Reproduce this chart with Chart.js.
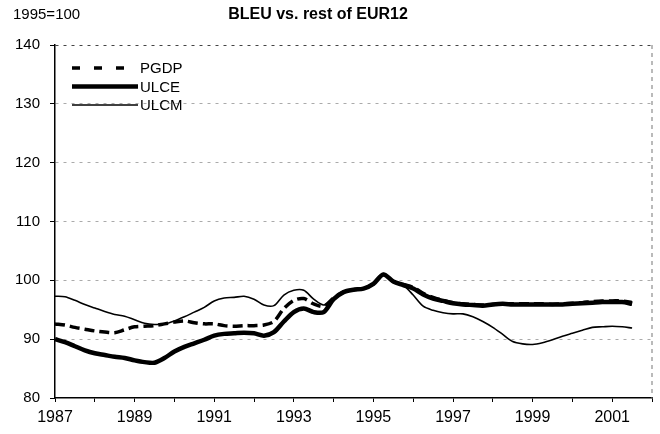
<!DOCTYPE html>
<html>
<head>
<meta charset="utf-8">
<script src="https://cdn.jsdelivr.net/npm/chart.js@4/dist/chart.umd.min.js"></script>
<style>
  body { margin: 0; background: #fff; }
  canvas { display: block; }
</style>
</head>
<body>
<canvas id="chart" width="660" height="434"></canvas>
<script>
// quarterly series, 1987Q1 .. 2001Q3, 1995 = 100
const startYear = 1987;
const titleText = "BLEU vs. rest of EUR12";
const unitText = "1995=100";
const seriesNames = ["PGDP", "ULCE", "ULCM"];

const pgdp = [
  92.6, 92.4, 92.0, 91.7, 91.4, 91.2, 91.1, 91.6, 92.1, 92.2,
  92.3, 92.6, 92.9, 93.1, 92.8, 92.6, 92.6, 92.3, 92.2, 92.3,
  92.3, 92.4, 93.0, 95.2, 96.6, 96.9, 96.0, 95.6, 97.0, 98.0,
  98.4, 98.6, 99.4, 101.0, 99.8, 99.3, 98.8, 97.8, 97.1, 96.6,
  96.2, 96.0, 95.9, 95.8, 95.9, 96.0, 96.0, 96.0, 96.0, 96.0,
  95.9, 96.0, 96.1, 96.2, 96.4, 96.5, 96.5, 96.5, 96.2
];
const ulce = [
  90.0, 89.5, 88.8, 88.1, 87.6, 87.3, 87.0, 86.8, 86.4, 86.1,
  86.0, 86.8, 87.9, 88.7, 89.3, 89.9, 90.6, 90.9, 91.0, 91.1,
  91.0, 90.6, 91.2, 93.0, 94.6, 95.2, 94.6, 94.6, 96.8, 98.0,
  98.4, 98.6, 99.4, 101.0, 99.8, 99.2, 98.6, 97.6, 96.9, 96.5,
  96.1, 95.9, 95.8, 95.7, 95.9, 96.0, 95.9, 95.9, 95.9, 95.9,
  95.9, 95.9, 96.0, 96.1, 96.2, 96.3, 96.3, 96.3, 96.0
];
const ulcm = [
  97.3, 97.2, 96.6, 95.9, 95.3, 94.7, 94.2, 93.9, 93.3, 92.7,
  92.5, 92.6, 93.1, 93.8, 94.6, 95.4, 96.5, 97.0, 97.1, 97.3,
  96.8, 95.8, 95.7, 97.5, 98.3, 98.3, 96.8, 95.8, 96.8, 97.9,
  98.5, 98.6, 99.3, 101.0, 99.9, 99.2, 97.5, 95.6, 94.9, 94.5,
  94.3, 94.3, 93.8, 93.0, 92.0, 90.8, 89.6, 89.2, 89.1, 89.4,
  89.9, 90.5, 91.0, 91.5, 92.0, 92.1, 92.2, 92.1, 91.9
];

const quarters = pgdp.map((_, i) => startYear + i / 4);
const toPoints = (vals) => vals.map((v, i) => ({ x: quarters[i], y: v }));

const fontFamily = "'Liberation Sans', Arial, sans-serif";

// titles, legend inside the plot and the dashed right border
const decorations = {
  id: "decorations",
  afterDraw(chart) {
    const ctx = chart.ctx;
    const area = chart.chartArea;
    ctx.save();
    ctx.fillStyle = "#000";
    ctx.textBaseline = "middle";
    ctx.font = "15px " + fontFamily;
    ctx.textAlign = "left";
    ctx.fillText(unitText, 13, 15);
    ctx.font = "bold 16px " + fontFamily;
    ctx.textAlign = "center";
    ctx.fillText(titleText, 318, 15);

    // right border
    ctx.strokeStyle = "#777";
    ctx.lineWidth = 1;
    ctx.setLineDash([4, 4]);
    ctx.beginPath();
    ctx.moveTo(area.right, area.top);
    ctx.lineTo(area.right, area.bottom);
    ctx.stroke();

    // legend
    ctx.font = "15px " + fontFamily;
    ctx.textAlign = "left";
    chart.data.datasets.forEach((ds, i) => {
      const y = area.top + 23 + i * 18.5;
      ctx.strokeStyle = "#000";
      ctx.lineWidth = ds.borderWidth;
      ctx.setLineDash(ds.borderDash ? [8, 14] : []);
      ctx.beginPath();
      ctx.moveTo(area.left + 17, y);
      ctx.lineTo(area.left + 83, y);
      ctx.stroke();
      ctx.fillText(ds.label, area.left + 85, y + 1);
    });
    ctx.restore();
  }
};

new Chart(document.getElementById("chart"), {
  type: "line",
  data: {
    datasets: [
      {
        label: seriesNames[0],
        data: toPoints(pgdp),
        borderColor: "#000",
        borderWidth: 3.5,
        borderDash: [10, 5],
        pointRadius: 0,
        tension: 0.3
      },
      {
        label: seriesNames[1],
        data: toPoints(ulce),
        borderColor: "#000",
        borderWidth: 4.5,
        pointRadius: 0,
        tension: 0.3
      },
      {
        label: seriesNames[2],
        data: toPoints(ulcm),
        borderColor: "#000",
        borderWidth: 1.6,
        pointRadius: 0,
        tension: 0.3
      }
    ]
  },
  options: {
    responsive: false,
    animation: false,
    layout: { padding: { top: 45, right: 8, left: 0, bottom: 0 } },
    plugins: {
      legend: { display: false },
      title: { display: false },
      tooltip: { enabled: false }
    },
    scales: {
      x: {
        type: "linear",
        min: 1987,
        max: 2002,
        afterFit: (scale) => { scale.height = 36; },
        ticks: {
          stepSize: 1,
          autoSkip: false,
          maxRotation: 0,
          padding: 6,
          color: "#000",
          font: { family: fontFamily, size: 16 },
          callback: (v) => (v % 2 === 1 && v < 2002 ? String(v) : "")
        },
        grid: {
          drawOnChartArea: false,
          drawTicks: true,
          tickLength: 4,
          tickColor: "#000"
        },
        border: { color: "#000", width: 1.5 }
      },
      y: {
        min: 80,
        max: 140,
        afterFit: (scale) => { scale.width = 55; },
        ticks: {
          stepSize: 10,
          padding: 10,
          color: "#000",
          font: { family: fontFamily, size: 15 }
        },
        grid: {
          color: (c) => (c.tick && c.tick.value === 140 ? "#444" : c.tick && c.tick.value === 80 ? "rgba(0,0,0,0)" : "#aaa"),
          lineWidth: 1,
          tickLength: 5,
          tickColor: "#000",
          tickBorderDash: []
        },
        border: { color: "#000", width: 1.5, dash: [3, 5] }
      }
    }
  },
  plugins: [decorations]
});
</script>
</body>
</html>
